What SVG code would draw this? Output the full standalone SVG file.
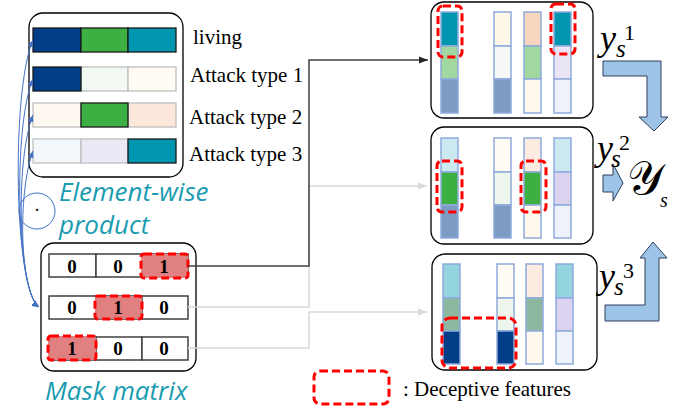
<svg xmlns="http://www.w3.org/2000/svg" width="689" height="408" viewBox="0 0 689 408">
<defs>
<marker id="ab" markerWidth="8" markerHeight="8" refX="7" refY="4" orient="auto-start-reverse" markerUnits="userSpaceOnUse"><path d="M0,1 L7,4 L0,7 Z" fill="#4472C4"/></marker>
<marker id="ak" markerWidth="10" markerHeight="10" refX="9" refY="5" orient="auto" markerUnits="userSpaceOnUse"><path d="M0,1.5 L9,5 L0,8.5 Z" fill="#262626"/></marker>
<marker id="ag" markerWidth="10" markerHeight="10" refX="9" refY="5" orient="auto" markerUnits="userSpaceOnUse"><path d="M0,1.5 L9,5 L0,8.5 Z" fill="#D9D9D9"/></marker>
</defs>
<style>
.box{fill:#fff;stroke:#000;stroke-width:1.3}
.cd{stroke:#1a1a1a;stroke-width:1.3}
.cl{stroke:#BFBFBF;stroke-width:1.3}
.lbl{font-family:"Liberation Serif",serif;font-size:21px;fill:#000}
.teal{font-family:"Open Sans",sans-serif;font-style:italic;font-size:26px;fill:#1A9CB0}
.mc{fill:#fff;stroke:#404040;stroke-width:1.5}
.num{font-family:"Liberation Serif",serif;font-weight:bold;font-size:19px;text-anchor:middle;fill:#000}
.red{fill:#E08080}
.dash{fill:none;stroke:#FF0000;stroke-width:3;stroke-dasharray:8 4}
.col{stroke:#8FAADC;stroke-width:1.5}
.big{fill:#9DC3E6;stroke:#2F3F5F;stroke-width:1}
.m{font-family:"Liberation Serif",serif;font-style:italic;fill:#000}
.mu{font-family:"Liberation Serif",serif;fill:#000}
</style>

<g id="features">
<rect class="box" x="29" y="13" width="154" height="164" rx="14"/>
<rect class="cd" x="33" y="28" width="48" height="24" fill="#003F87"/>
<rect class="cd" x="81" y="28" width="47" height="24" fill="#3CB043"/>
<rect class="cd" x="128" y="28" width="48" height="24" fill="#0096B0"/>
<rect class="cl" x="81" y="67" width="47" height="24" fill="#F2F8F2"/>
<rect class="cl" x="128" y="67" width="48" height="24" fill="#FFFAF3"/>
<rect class="cd" x="33" y="67" width="48" height="24" fill="#003F87"/>
<rect class="cl" x="33" y="103" width="48" height="24" fill="#FFF8F0"/>
<rect class="cl" x="128" y="103" width="48" height="24" fill="#FCE8DA"/>
<rect class="cd" x="81" y="103" width="47" height="24" fill="#3CB043"/>
<rect class="cl" x="33" y="139" width="48" height="24" fill="#F2F7FB"/>
<rect class="cl" x="81" y="139" width="47" height="24" fill="#ECE8F6"/>
<rect class="cd" x="128" y="139" width="48" height="24" fill="#0096B0"/>
<text class="lbl" x="193" y="44">living</text>
<text class="lbl" x="190" y="82">Attack type 1</text>
<text class="lbl" x="189" y="124">Attack type 2</text>
<text class="lbl" x="189" y="161">Attack type 3</text>
</g>

<g id="elementwise">
<circle cx="37" cy="211" r="18" fill="none" stroke="#4472C4" stroke-width="1"/>
<text x="37" y="216" font-family="Liberation Serif,serif" font-size="18" text-anchor="middle">·</text>
<text class="teal" x="59" y="201">Element-wise</text>
<text class="teal" x="59" y="234">product</text>
</g>

<g id="mask">
<rect class="box" x="41" y="243" width="155" height="128" rx="13"/>
<rect class="mc" x="49" y="254" width="47" height="23"/>
<rect class="mc" x="96" y="254" width="46" height="23"/>
<rect class="mc" x="142" y="254" width="46" height="23"/>
<rect class="mc" x="49" y="296" width="47" height="23"/>
<rect class="mc" x="96" y="296" width="46" height="23"/>
<rect class="mc" x="142" y="296" width="46" height="23"/>
<rect class="mc" x="49" y="337" width="47" height="23"/>
<rect class="mc" x="96" y="337" width="46" height="23"/>
<rect class="mc" x="142" y="337" width="46" height="23"/>
<rect class="red" x="141" y="254" width="47" height="24" rx="3"/>
<rect class="dash" x="141" y="254" width="47" height="24" rx="3"/>
<rect class="red" x="95" y="296" width="47" height="23" rx="3"/>
<rect class="dash" x="95" y="296" width="47" height="23" rx="3"/>
<rect class="red" x="48" y="336" width="48" height="24" rx="3"/>
<rect class="dash" x="48" y="336" width="48" height="24" rx="3"/>
<text class="num" x="72" y="273">0</text>
<text class="num" x="118" y="273">0</text>
<text class="num" x="164" y="273">1</text>
<text class="num" x="72" y="314">0</text>
<text class="num" x="118" y="314">1</text>
<text class="num" x="164" y="314">0</text>
<text class="num" x="72" y="355">1</text>
<text class="num" x="118" y="355">0</text>
<text class="num" x="164" y="355">0</text>
<text class="teal" x="45" y="400">Mask matrix</text>
</g>

<g id="out1">
<rect class="box" x="431" y="2" width="162" height="116" rx="13"/>
<rect class="col" x="441" y="12" width="17" height="34" fill="#0096B0"/>
<rect class="col" x="441" y="46" width="17" height="33" fill="#A0D8A0"/>
<rect class="col" x="441" y="79" width="17" height="34" fill="#7C9CC4"/>
<rect class="col" x="494" y="12" width="17" height="34" fill="#FFF8E8"/>
<rect class="col" x="494" y="46" width="17" height="33" fill="#F5F8F5"/>
<rect class="col" x="494" y="79" width="17" height="34" fill="#7C9CC4"/>
<rect class="col" x="524" y="12" width="17" height="34" fill="#F8D5BE"/>
<rect class="col" x="524" y="46" width="17" height="33" fill="#A0D8A0"/>
<rect class="col" x="524" y="79" width="17" height="34" fill="#FFF8EC"/>
<rect class="col" x="554" y="12" width="17" height="34" fill="#0096B0"/>
<rect class="col" x="554" y="46" width="17" height="33" fill="#EBE6F6"/>
<rect class="col" x="554" y="79" width="17" height="34" fill="#EEF2FA"/>
<rect class="dash" x="438" y="6" width="24" height="51" rx="5"/>
<rect class="dash" x="551" y="4" width="24" height="50" rx="5"/>
</g>

<g id="out2">
<rect class="box" x="431" y="127" width="162" height="117" rx="13"/>
<rect class="col" x="441" y="138" width="17" height="34" fill="#CCE8F0"/>
<rect class="col" x="441" y="172" width="17" height="33" fill="#3CB043"/>
<rect class="col" x="441" y="205" width="17" height="33" fill="#7C9CC4"/>
<rect class="col" x="494" y="138" width="17" height="34" fill="#FFFBF3"/>
<rect class="col" x="494" y="172" width="17" height="33" fill="#EEF5EC"/>
<rect class="col" x="494" y="205" width="17" height="33" fill="#7C9CC4"/>
<rect class="col" x="524" y="138" width="17" height="34" fill="#FCEBE0"/>
<rect class="col" x="524" y="172" width="17" height="33" fill="#3CB043"/>
<rect class="col" x="524" y="205" width="17" height="33" fill="#FFF8EC"/>
<rect class="col" x="554" y="138" width="17" height="34" fill="#CCE8F0"/>
<rect class="col" x="554" y="172" width="17" height="33" fill="#DCD3F0"/>
<rect class="col" x="554" y="205" width="17" height="33" fill="#EEF2FA"/>
<rect class="dash" x="437" y="161" width="25" height="51" rx="5"/>
<rect class="dash" x="521" y="161" width="25" height="51" rx="5"/>
</g>

<g id="out3">
<rect class="box" x="432" y="254" width="165" height="116" rx="13"/>
<rect class="col" x="443" y="264" width="17" height="34" fill="#94D4DE"/>
<rect class="col" x="443" y="298" width="17" height="33" fill="#8CB8A0"/>
<rect class="col" x="443" y="331" width="17" height="33" fill="#003F87"/>
<rect class="col" x="497" y="264" width="17" height="34" fill="#FFFBF3"/>
<rect class="col" x="497" y="298" width="17" height="33" fill="#EEF5EC"/>
<rect class="col" x="497" y="331" width="17" height="33" fill="#003F87"/>
<rect class="col" x="526" y="264" width="17" height="34" fill="#FCEBE0"/>
<rect class="col" x="526" y="298" width="17" height="33" fill="#8CB8A0"/>
<rect class="col" x="526" y="331" width="17" height="33" fill="#FFF8EC"/>
<rect class="col" x="556" y="264" width="17" height="34" fill="#94D4DE"/>
<rect class="col" x="556" y="298" width="17" height="33" fill="#DCD3F0"/>
<rect class="col" x="556" y="331" width="17" height="33" fill="#EEF2FA"/>
<rect class="dash" x="442" y="318" width="74" height="50" rx="8"/>
</g>

<g id="merge">
<path class="big" d="M603,61 L661,61 L661,117 L668,117 L654,131 L639,117 L647,117 L647,76 L603,76 Z"/>
<path class="big" d="M603,175 L613,175 L613,164 L623,183 L613,201 L613,192 L603,192 Z"/>
<path class="big" d="M605,321 L659,321 L659,258 L667,258 L653,242 L640,258 L645,258 L645,305 L605,305 Z"/>
<text class="m" x="600" y="50" font-size="36">y</text><text class="m" x="616" y="57" font-size="25">s</text><text class="mu" x="624" y="40" font-size="22">1</text>
<text class="m" x="597" y="160" font-size="36">y</text><text class="m" x="611" y="167" font-size="25">s</text><text class="mu" x="619" y="150" font-size="22">2</text>
<text class="m" x="599" y="288" font-size="36">y</text><text class="m" x="614" y="295" font-size="25">s</text><text class="mu" x="623" y="278" font-size="22">3</text>
<text x="627" y="194" font-family="DejaVu Serif,serif" font-size="46" fill="#000">𝒴</text><text class="m" x="660" y="207" font-size="20">s</text>
</g>

<g id="legend">
<rect class="dash" x="314" y="371" width="75" height="33" rx="6"/>
<text class="lbl" x="403" y="396">: Deceptive features</text>
</g>

<g id="connectors">
<path d="M188,307 H309 V186 H427" fill="none" stroke="#D9D9D9" stroke-width="1.5" marker-end="url(#ag)"/>
<path d="M188,348 H309 V312 H427" fill="none" stroke="#D9D9D9" stroke-width="1.5" marker-end="url(#ag)"/>
<path d="M188,266 H309 V60 H428" fill="none" stroke="#404040" stroke-width="1.5" marker-end="url(#ak)"/>
<path d="M39,307 C14,292 11,90 33,40" fill="none" stroke="#4472C4" stroke-width="1" marker-start="url(#ab)" marker-end="url(#ab)"/>
<path d="M39,307 C16,292 13,125 33,79" fill="none" stroke="#4472C4" stroke-width="1" marker-start="url(#ab)" marker-end="url(#ab)"/>
<path d="M39,307 C18,292 15,160 33,115" fill="none" stroke="#4472C4" stroke-width="1" marker-start="url(#ab)" marker-end="url(#ab)"/>
<path d="M39,307 C20,292 17,195 33,151" fill="none" stroke="#4472C4" stroke-width="1" marker-start="url(#ab)" marker-end="url(#ab)"/>
</g>
</svg>
